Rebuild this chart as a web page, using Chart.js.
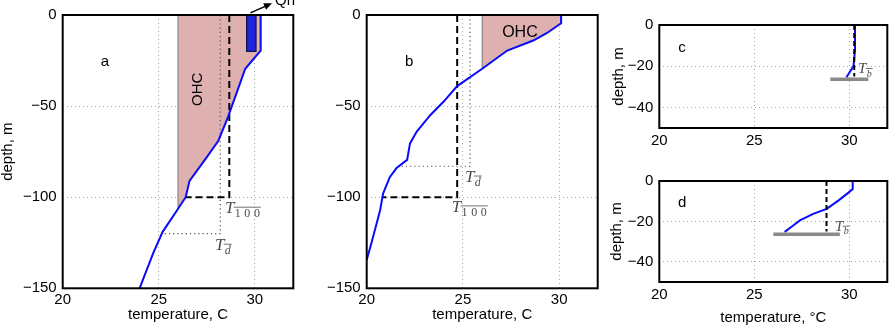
<!DOCTYPE html>
<html>
<head>
<meta charset="utf-8">
<script src="https://cdn.jsdelivr.net/npm/chart.js@4.4.0/dist/chart.umd.min.js"></script>
<style>
  body { margin: 0; background: #fff; }
  #wrap { position: relative; width: 895px; height: 332px; overflow: hidden; }
  canvas { position: absolute; }
</style>
</head>
<body>
<div id="wrap">
  <canvas id="pa" width="300" height="332" style="left:0;top:0;width:300px;height:332px"></canvas>
  <canvas id="pb" width="300" height="332" style="left:300px;top:0;width:300px;height:332px"></canvas>
  <canvas id="pc" width="295" height="166" style="left:600px;top:0;width:295px;height:166px"></canvas>
  <canvas id="pd" width="295" height="166" style="left:600px;top:166px;width:295px;height:166px"></canvas>
</div>
<script>
const FONT = "'Liberation Sans', Arial, Helvetica, sans-serif";
const SERIF = "'Liberation Serif', 'DejaVu Serif', serif";
const BLUE = '#0a0aff';
const PINK = '#deb0b0';

// axes
const tempRange = [20, 32];
const tempTicks = [20, 25, 30];
const deepTicks = [-150, -100, -50, 0];
const shallowTicks = [-40, -20, 0];

// temperature profiles (temperature C, depth m)
const tempA  = [30.3, 30.3, 29.5, 28.6, 28.1, 27.5, 26.6, 26.4, 25.9, 25.2, 24.7, 24.0];
const depthA = [0, -19.5, -29.5, -56, -69, -78, -91, -100, -108, -119, -131, -150];

const tempB  = [30.1, 30.1, 29.35, 28.65, 27.3, 26.0, 24.7, 24.0, 23.3, 22.95, 22.6, 22.25, 22.1, 21.55, 21.2, 20.85, 20.7, 20.25, 20.0];
const depthB = [0, -4.5, -10, -14, -19.5, -29.5, -39, -47.5, -55, -59.5, -64, -70.5, -79.5, -84, -89, -98, -107, -125, -134.5];

const tempC  = [30.3, 30.3, 30.22, 29.85];
const depthC = [0, -12, -20, -25.4];

const tempD  = [30.18, 30.18, 29.86, 29.42, 28.81, 28.1, 27.4, 27.05, 26.6];
const depthD = [0, -4, -6.5, -9.7, -13.8, -16.3, -19.5, -22, -25.2];

// derived quantities
const ohcTemp = 26;
const t100A = 28.67, t100B = 24.7;
const tdA = 28.2, dA = -120;
const tdB = 25.37, dB = -83;
const qhTemps = [29.57, 30.06], qhDepth = -20;
const tbC = 30.26, tbD = 28.8, tbDepth = -25;
const layerDepth = -26.3;
const layerC = [29.0, 31.0], layerD = [26.0, 29.5];

Chart.defaults.font.family = FONT;
Chart.defaults.font.size = 15;
Chart.defaults.color = '#000';

function pts(temps, depths) {
  return temps.map((t, i) => ({x: t, y: depths[i]}));
}

function tempAt(temps, depths, d) {
  for (let i = 1; i < depths.length; i++) {
    if (depths[i] <= d) {
      const f = (d - depths[i - 1]) / (depths[i] - depths[i - 1]);
      return temps[i - 1] + f * (temps[i] - temps[i - 1]);
    }
  }
  return temps[temps.length - 1];
}

// region between the reference temperature and the profile, down to where they cross
function ohcShape(temps, depths, tRef) {
  const shape = [{x: tRef, y: depths[0]}];
  for (let i = 0; i < temps.length; i++) {
    if (temps[i] >= tRef) {
      shape.push({x: temps[i], y: depths[i]});
      continue;
    }
    const f = (temps[i - 1] - tRef) / (temps[i - 1] - temps[i]);
    shape.push({x: tRef, y: depths[i - 1] + f * (depths[i] - depths[i - 1])});
    break;
  }
  shape.push({x: tRef, y: depths[0]});
  return shape;
}

function line(data, color, width, dash) {
  return {data, showLine: true, borderColor: color, borderWidth: width,
          borderDash: dash || [], pointRadius: 0, fill: false};
}

function shape(data, fillColor, edgeColor, width) {
  return {data, showLine: true, borderColor: edgeColor, borderWidth: width,
          backgroundColor: fillColor, pointRadius: 0, fill: 'shape'};
}

function drawTLabel(ctx, x, y, sub, size, subItalic) {
  ctx.save();
  ctx.fillStyle = '#4d4d4d';
  ctx.strokeStyle = '#4d4d4d';
  ctx.textBaseline = 'alphabetic';
  ctx.textAlign = 'left';
  ctx.font = 'italic ' + size + 'px ' + SERIF;
  ctx.fillText('T', x, y);
  const sx = x + ctx.measureText('T').width + size * 0.02;
  const subSize = Math.round(size * 0.68);
  ctx.font = (subItalic ? 'italic ' : '') + subSize + 'px ' + SERIF;
  const spacing = sub.length > 1 ? subSize * 0.3 : 0;
  const sy = y + size * 0.22;
  let cx = sx;
  for (const ch of sub) {
    ctx.fillText(ch, cx, sy);
    cx += ctx.measureText(ch).width + spacing;
  }
  const topY = sy - subSize * 0.8;
  ctx.lineWidth = 0.8;
  ctx.beginPath();
  ctx.moveTo(sx - 1, topY);
  ctx.lineTo(cx - spacing + 1, topY);
  ctx.stroke();
  ctx.restore();
}

const decorPlugin = {
  id: 'decor',
  afterDatasetsDraw(chart, args, opts) {
    const ctx = chart.ctx;
    const {left, top, width, height} = chart.chartArea;
    const sx = chart.scales.x, sy = chart.scales.y;
    ctx.save();
    ctx.strokeStyle = '#000';
    ctx.lineWidth = 2;
    ctx.strokeRect(left, top, width, height);
    for (const item of opts.items || []) {
      const x = sx.getPixelForValue(item.x);
      const y = sy.getPixelForValue(item.y);
      if (item.type === 'text') {
        ctx.save();
        ctx.fillStyle = '#000';
        ctx.font = (item.size || 15) + 'px ' + FONT;
        ctx.textAlign = item.align || 'center';
        ctx.textBaseline = item.baseline || 'middle';
        ctx.translate(x, y);
        if (item.rotate) ctx.rotate(-Math.PI / 2);
        ctx.fillText(item.text, 0, 0);
        ctx.restore();
      } else if (item.type === 'T') {
        drawTLabel(ctx, x, y, item.sub, item.size, item.italic);
      } else if (item.type === 'arrow') {
        const x2 = sx.getPixelForValue(item.x2);
        const y2 = sy.getPixelForValue(item.y2);
        const a = Math.atan2(y2 - y, x2 - x);
        ctx.strokeStyle = '#000';
        ctx.fillStyle = '#000';
        ctx.lineWidth = 1.5;
        ctx.beginPath();
        ctx.moveTo(x, y);
        ctx.lineTo(x2 - 5 * Math.cos(a), y2 - 5 * Math.sin(a));
        ctx.stroke();
        ctx.beginPath();
        ctx.moveTo(x2, y2);
        ctx.lineTo(x2 - 8 * Math.cos(a) + 3.5 * Math.sin(a), y2 - 8 * Math.sin(a) - 3.5 * Math.cos(a));
        ctx.lineTo(x2 - 8 * Math.cos(a) - 3.5 * Math.sin(a), y2 - 8 * Math.sin(a) + 3.5 * Math.cos(a));
        ctx.closePath();
        ctx.fill();
      }
    }
    ctx.restore();
  }
};

function minusLabel(v) {
  return v < 0 ? '\u2212' + Math.abs(v) : String(v);
}

function makePanel(id, cfg) {
  const canvas = document.getElementById(id);
  const W = canvas.width, H = canvas.height;
  return new Chart(canvas, {
    type: 'scatter',
    data: {datasets: cfg.datasets},
    options: {
      responsive: false,
      animation: false,
      events: [],
      layout: {padding: {left: 0, top: cfg.area.top, right: W - cfg.area.right, bottom: 0}},
      plugins: {
        legend: {display: false},
        tooltip: {enabled: false},
        decor: {items: cfg.items}
      },
      scales: {
        x: {
          type: 'linear',
          min: tempRange[0],
          max: tempRange[1],
          afterBuildTicks: s => { s.ticks = tempTicks.map(v => ({value: v})); },
          afterFit: s => { s.height = H - cfg.area.bottom; },
          grid: {color: '#a8a8a8', lineWidth: 1, drawTicks: false},
          border: {display: false, dash: [1, 3]},
          ticks: {padding: cfg.xPad, callback: minusLabel, maxRotation: 0},
          title: {display: !!cfg.xTitle, text: cfg.xTitle || '',
                  font: {size: 15, lineHeight: 1}, padding: {top: 0, bottom: cfg.xTitlePad}}
        },
        y: {
          type: 'linear',
          min: cfg.yTicks[0] < -100 ? -150 : -50,
          max: 0,
          afterBuildTicks: s => { s.ticks = cfg.yTicks.map(v => ({value: v})); },
          afterFit: s => { s.width = cfg.area.left; },
          grid: {color: '#a8a8a8', lineWidth: 1, drawTicks: false},
          border: {display: false, dash: [1, 3]},
          ticks: {padding: 6, callback: minusLabel},
          title: {display: !!cfg.yTitle, text: cfg.yTitle || '',
                  font: {size: 15, lineHeight: 1}, padding: {top: cfg.yTitlePad, bottom: 0}}
        }
      }
    },
    plugins: [decorPlugin]
  });
}

// panel a
makePanel('pa', {
  area: {left: 62.7, top: 14.7, right: 293.3, bottom: 288.3},
  yTicks: deepTicks, xPad: 3, xTitle: 'temperature, C', xTitlePad: 10,
  yTitle: 'depth, m', yTitlePad: 0,
  datasets: [
    line(pts(tempA, depthA), BLUE, 2),
    shape([{x: qhTemps[0], y: 0}, {x: qhTemps[1], y: 0}, {x: qhTemps[1], y: qhDepth},
           {x: qhTemps[0], y: qhDepth}, {x: qhTemps[0], y: 0}], '#2222d8', '#10104a', 1.2),
    line([{x: t100A, y: 0}, {x: t100A, y: -100}, {x: tempAt(tempA, depthA, -100), y: -100}], '#000', 2, [7, 4]),
    line([{x: tdA, y: 0}, {x: tdA, y: dA}, {x: tempAt(tempA, depthA, dA), y: dA}], '#555', 1.2, [1.2, 3]),
    shape(ohcShape(tempA, depthA, ohcTemp), PINK, '#777', 1)
  ],
  items: [
    {type: 'text', text: 'a', x: 22.2, y: -25.8},
    {type: 'text', text: 'OHC', x: 27.03, y: -40.8, rotate: true, size: 15},
    {type: 'T', sub: '100', x: 28.44, y: -108.7, size: 17, italic: false},
    {type: 'T', sub: 'd', x: 27.92, y: -129, size: 17, italic: true},
    {type: 'arrow', x: 29.77, y: 1.2, x2: 30.89, y2: 6.4},
    {type: 'text', text: 'Qh', x: 31.05, y: 5.3, align: 'left', baseline: 'alphabetic'}
  ]
});

// panel b
makePanel('pb', {
  area: {left: 66.7, top: 14.7, right: 297.7, bottom: 288.3},
  yTicks: deepTicks, xPad: 3, xTitle: 'temperature, C', xTitlePad: 10,
  datasets: [
    line(pts(tempB, depthB), BLUE, 2),
    line([{x: t100B, y: 0}, {x: t100B, y: -100}, {x: tempAt(tempB, depthB, -100), y: -100}], '#000', 2, [7, 4]),
    line([{x: tdB, y: 0}, {x: tdB, y: dB}, {x: tempAt(tempB, depthB, dB), y: dB}], '#555', 1.2, [1.2, 3]),
    shape(ohcShape(tempB, depthB, ohcTemp), PINK, '#777', 1)
  ],
  items: [
    {type: 'text', text: 'b', x: 22.2, y: -25.8},
    {type: 'text', text: 'OHC', x: 27.96, y: -9.8, size: 16},
    {type: 'T', sub: 'd', x: 25.11, y: -91.6, size: 17, italic: true},
    {type: 'T', sub: '100', x: 24.42, y: -108, size: 17, italic: false}
  ]
});

// panel c
makePanel('pc', {
  area: {left: 59.3, top: 25, right: 287.3, bottom: 128},
  yTicks: shallowTicks, xPad: 4,
  yTitle: 'depth, m', yTitlePad: 11,
  datasets: [
    line([{x: tbC, y: 0}, {x: tbC, y: tbDepth}], '#000', 2, [5, 3]),
    line(pts(tempC, depthC), BLUE, 2),
    line([{x: layerC[0], y: layerDepth}, {x: layerC[1], y: layerDepth}], '#8a8a8a', 3.5)
  ],
  items: [
    {type: 'text', text: 'c', x: 21.2, y: -11.2},
    {type: 'T', sub: 'b', x: 30.46, y: -23.4, size: 15, italic: true}
  ]
});

// panel d
makePanel('pd', {
  area: {left: 59.3, top: 13.3, right: 287.3, bottom: 116},
  yTicks: shallowTicks, xPad: 4, xTitle: 'temperature, \u00B0C', xTitlePad: 6.5,
  yTitle: 'depth, m', yTitlePad: 9,
  datasets: [
    line([{x: tbD, y: 0}, {x: tbD, y: tbDepth}], '#000', 2, [5, 3]),
    line(pts(tempD, depthD), BLUE, 2),
    line([{x: layerD[0], y: layerDepth}, {x: layerD[1], y: layerDepth}], '#8a8a8a', 3.5)
  ],
  items: [
    {type: 'text', text: 'd', x: 21.2, y: -10.6},
    {type: 'T', sub: 'b', x: 29.25, y: -24.7, size: 15, italic: true}
  ]
});
</script>
</body>
</html>
